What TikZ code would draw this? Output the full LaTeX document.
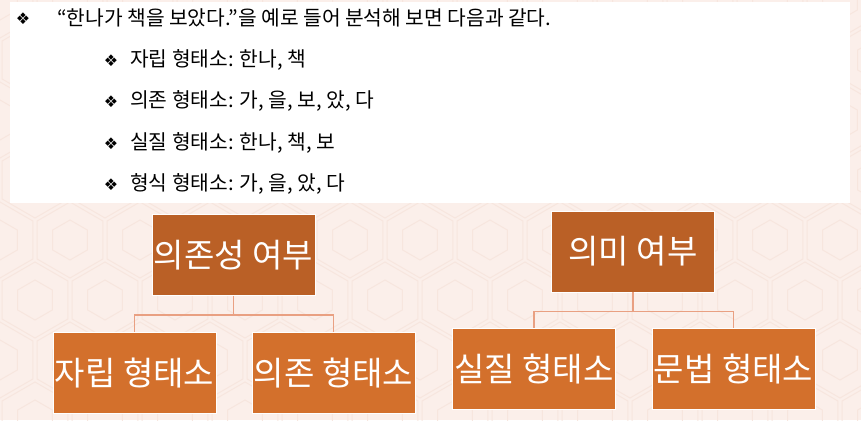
\documentclass[tikz,border=0pt]{standalone}
\usepackage{fontspec}
\setmainfont{Noto Sans CJK KR}
\newfontfamily\symfont{DejaVu Sans}
\usetikzlibrary{positioning}
\definecolor{slidebg}{RGB}{251,239,234}
\definecolor{hexline}{RGB}{247,230,222}
\definecolor{rootbrown}{RGB}{186,96,38}
\definecolor{leaforange}{RGB}{211,112,44}
\definecolor{branchline}{RGB}{233,160,130}
\tikzset{
    % tree boxes
    rootbox/.style={
        rectangle, fill=rootbrown, draw=white, line width=0.8pt,
        text=white, font=\fontsize{33}{38}\selectfont,
        minimum width=163pt, minimum height=81pt, inner sep=0pt
    },
    leafbox/.style={rootbox, fill=leaforange},
    % elbow connectors
    branch/.style={draw=branchline, line width=1.3pt},
    % bullet list
    dingbat/.style={font=\symfont\fontsize{16}{18}\selectfont, inner sep=0pt},
    itemtext/.style={anchor=west, font=\fontsize{20.3}{24}\selectfont, inner sep=0pt},
    hexcell/.style={draw=hexline, line width=1pt},
}

\begin{document}
\begin{tikzpicture}[x=1pt,y=-1pt]
  % slide background
  \fill[slidebg] (0,0) rectangle (861,420);
  \useasboundingbox (0,0) rectangle (861,420);
  \foreach \row in {0,...,7}{
    \foreach \col in {0,...,13}{
      \pgfmathsetmacro{\cx}{\col*70+mod(\row,2)*35}
      \pgfmathsetmacro{\cy}{\row*60}
      \draw[hexcell] (\cx,\cy) +(30:38) -- +(90:38) -- +(150:38) -- +(210:38)
            -- +(270:38) -- +(330:38) -- cycle;
      \draw[hexcell] (\cx,\cy) +(30:20) -- +(90:20) -- +(150:20) -- +(210:20)
            -- +(270:20) -- +(330:20) -- cycle;
    }
  }

  % text panel
  \fill[white] (10,2) rectangle (850,203);
  \node[dingbat] (b0) at (23,19) {❖};
  \node[itemtext] (t0) at (57,18) {“한나가 책을 보았다.”을 예로 들어 분석해 보면 다음과 같다.};
  \node[dingbat] (b1) at (111,61) {❖};
  \node[itemtext] (t1) at (130,60) {자립 형태소: 한나, 책};
  \node[dingbat] (b2) at (111,102) {❖};
  \node[itemtext] (t2) at (130,101) {의존 형태소: 가, 을, 보, 았, 다};
  \node[dingbat] (b3) at (111,144) {❖};
  \node[itemtext] (t3) at (130,143) {실질 형태소: 한나, 책, 보};
  \node[dingbat] (b4) at (111,185) {❖};
  \node[itemtext] (t4) at (130,184) {형식 형태소: 가, 을, 았, 다};

  % left tree
  \node[rootbox] (dep) at (233.5,255) {의존성 여부};
  \node[leafbox] (free) at (134.5,373) {자립 형태소};
  \node[leafbox] (bound) at (333.5,373) {의존 형태소};
  \draw[branch] (dep.south) -- ++(0,19) coordinate (depmid) -| (free.north);
  \draw[branch] (depmid) -| (bound.north);

  % right tree
  \node[rootbox] (mean) at (633,251.5) {의미 여부};
  \node[leafbox] (real) at (534,369) {실질 형태소};
  \node[leafbox] (gram) at (733.5,369) {문법 형태소};
  \draw[branch] (mean.south) -- ++(0,19) coordinate (meanmid) -| (real.north);
  \draw[branch] (meanmid) -| (gram.north);
\end{tikzpicture}
\end{document}
